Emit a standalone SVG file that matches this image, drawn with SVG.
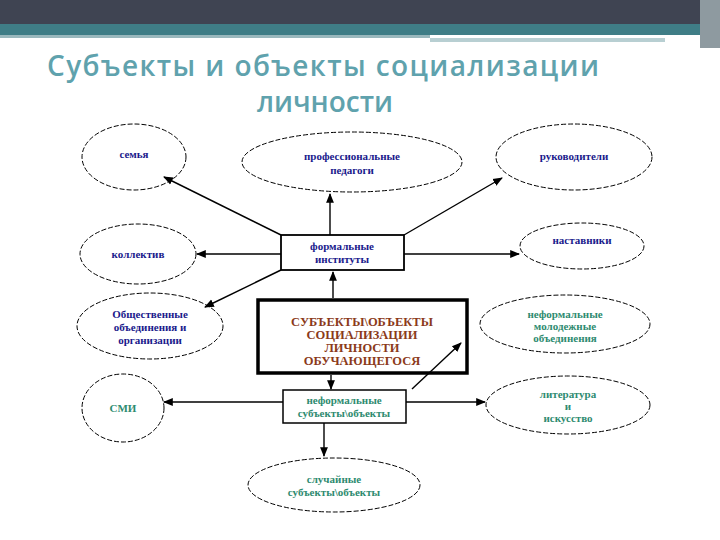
<svg xmlns="http://www.w3.org/2000/svg" width="720" height="540" viewBox="0 0 720 540">
<style>
.e{fill:#fff;stroke:#000;stroke-width:1;stroke-dasharray:5 2}
.t{font-family:"Liberation Serif",serif;font-weight:bold;font-size:11px;text-anchor:middle}
.b{fill:#1a1a8c}.g{fill:#2e8b70}.r{fill:#8b3a1a;font-size:12.5px}
.c line{stroke:#000;stroke-width:1.4;marker-end:url(#a)}
.h{font-family:"Open Sans",sans-serif;font-size:28px;fill:#5fa2ad;font-weight:600}
</style>
<defs><marker id="a" viewBox="0 0 10 10" refX="9" refY="5" markerWidth="7" markerHeight="7" orient="auto"><path d="M0,1L10,5L0,9z"/></marker></defs>
<rect width="720" height="540" fill="#fff"/>
<rect width="720" height="24" fill="#3f4452"/>
<rect y="24" width="720" height="11" fill="#3f7d86"/>
<rect y="35" width="430" height="3" fill="#9ab8bd"/>
<rect x="430" y="38" width="235" height="4" fill="#b8cfd2"/>
<rect x="700" y="0" width="20" height="48" fill="#8e9aa0"/>
<text class="h" x="47" y="76" textLength="552">Субъекты и объекты социализации</text>
<text class="h" x="325" y="112" text-anchor="middle">личности</text>
<g id="n1"><ellipse class="e" cx="134" cy="157" rx="52" ry="33"/><text class="t b" x="134" y="158">семья</text></g>
<g id="n2"><ellipse class="e" cx="352" cy="162" rx="110" ry="30"/><text class="t b" x="352" y="160">профессиональные</text><text class="t b" x="352" y="174">педагоги</text></g>
<g id="n3"><ellipse class="e" cx="574" cy="157" rx="78" ry="33"/><text class="t b" x="574" y="160">руководители</text></g>
<g id="n4"><ellipse class="e" cx="138" cy="254" rx="58" ry="30"/><text class="t b" x="138" y="258">коллектив</text></g>
<g id="n5"><ellipse class="e" cx="582" cy="246" rx="62" ry="23"/><text class="t b" x="582" y="244">наставники</text></g>
<g id="n6"><rect x="281" y="235" width="123" height="35" fill="#fff" stroke="#000" stroke-width="1.8"/><text class="t b" x="342" y="250">формальные</text><text class="t b" x="342" y="263">институты</text></g>
<g id="n7"><ellipse class="e" cx="150" cy="326" rx="73" ry="33"/><text class="t b" x="150" y="318">Общественные</text><text class="t b" x="150" y="331">объединения и</text><text class="t b" x="150" y="344">организации</text></g>
<g id="n8"><rect x="258" y="300" width="209" height="73" fill="#fff" stroke="#000" stroke-width="3.5"/><text class="t r" x="362" y="326">СУБЪЕКТЫ\ОБЪЕКТЫ</text><text class="t r" x="362" y="339">СОЦИАЛИЗАЦИИ</text><text class="t r" x="362" y="352">ЛИЧНОСТИ</text><text class="t r" x="362" y="365">ОБУЧАЮЩЕГОСЯ</text></g>
<g id="n9"><ellipse class="e" cx="565" cy="324" rx="85" ry="29"/><text class="t g" x="565" y="318">неформальные</text><text class="t g" x="565" y="330">молодежные</text><text class="t g" x="565" y="342">объединения</text></g>
<g id="n10"><ellipse class="e" cx="123" cy="408" rx="41" ry="34"/><text class="t g" x="123" y="412">СМИ</text></g>
<g id="n11"><rect x="283" y="390" width="123" height="33" fill="#fff" stroke="#000" stroke-width="1.5"/><text class="t g" x="344" y="404">неформальные</text><text class="t g" x="344" y="417">субъекты\объекты</text></g>
<g id="n12"><ellipse class="e" cx="568" cy="405" rx="82" ry="29"/><text class="t g" x="568" y="398">литература</text><text class="t g" x="568" y="410">и</text><text class="t g" x="568" y="422">искусство</text></g>
<g id="n13"><ellipse class="e" cx="334" cy="485" rx="86" ry="27"/><text class="t g" x="334" y="483">случайные</text><text class="t g" x="334" y="496">субъекты\объекты</text></g>
<g class="c">
<line x1="281" y1="235" x2="164" y2="177"/>
<line x1="330" y1="235" x2="330" y2="194" stroke="#888"/>
<line x1="404" y1="235" x2="502" y2="178"/>
<line x1="281" y1="254" x2="197" y2="254"/>
<line x1="404" y1="254" x2="519" y2="254"/>
<line x1="281" y1="270" x2="205" y2="307"/>
<line x1="333" y1="298" x2="333" y2="272"/>
<line x1="331" y1="375" x2="331" y2="389"/>
<line x1="283" y1="402" x2="164" y2="402"/>
<line x1="406" y1="402" x2="485" y2="402"/>
<line x1="412" y1="389" x2="461" y2="343"/>
<line x1="324" y1="423" x2="324" y2="456"/>
</g>
</svg>
